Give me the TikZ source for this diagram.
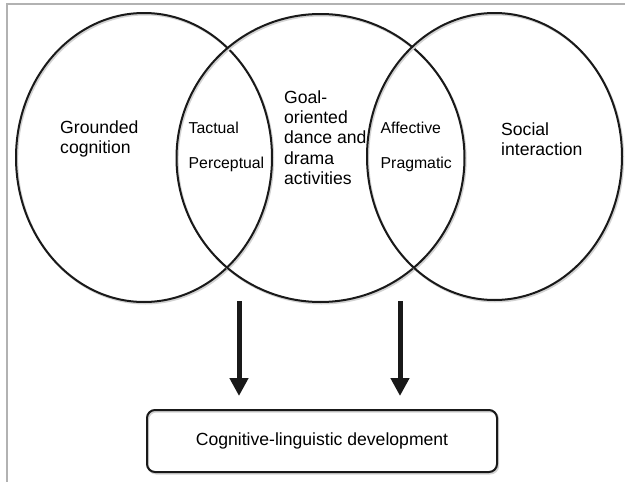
\documentclass[tikz,border=0pt]{standalone}
\usepackage{fontspec}
\setmainfont{Liberation Sans}
\usetikzlibrary{arrows.meta,shapes.geometric,shadows}

\tikzset{
    soft/.style={general shadow={shadow xshift=1.2pt, shadow yshift=-1.5pt, draw=gray!35, fill=none, line width=2pt}},
    ring/.style={ellipse, draw=black!90, line width=2pt, inner sep=0pt, soft},
    bigtext/.style={anchor=west, inner sep=0pt, align=left, font=\fontsize{17.6}{20.3}\selectfont},
    smalltext/.style={anchor=west, inner sep=0pt, font=\fontsize{15.8}{18}\selectfont},
    flow/.style={line width=5pt, black!90, -{Triangle[width=18pt,length=18pt]}, shorten >=13pt}
}

\begin{document}
\begin{tikzpicture}[x=1pt, y=-1pt]
    \useasboundingbox (0,0) rectangle (625,482);

    % frame lines
    \draw[gray!60, line width=1.2pt] (7,482) -- (7,4) -- (625,4);

    % the three circles
    \node[ring, minimum width=256pt, minimum height=289pt] (grounded) at (144,157.5) {};
    \node[ring, minimum width=288pt, minimum height=288pt] (goal) at (320.5,158) {};
    \node[ring, minimum width=255pt, minimum height=287pt] (social) at (494.5,156.5) {};

    % labels
    \node[bigtext] (groundedtxt) at (60,139) {Grounded\\cognition};
    \node[bigtext] (goaltxt) at (284,137.5) {Goal-\\oriented\\dance and\\drama\\activities};
    \node[bigtext] (socialtxt) at (501,139) {Social\\interaction};

    \node[smalltext] (tactual) at (188.5,128) {Tactual};
    \node[smalltext] (perceptual) at (188.5,164) {Perceptual};
    \node[smalltext] (affective) at (380.5,128) {Affective};
    \node[smalltext] (pragmatic) at (380.5,164) {Pragmatic};

    % outcome box
    \node[draw=black!90, line width=2pt, rounded corners=8pt, minimum width=350pt, minimum height=62pt, soft,
          font=\fontsize{17.6}{20.3}\selectfont] (outcome) at (322,441) {Cognitive-linguistic development};

    % arrows
    \coordinate (leftsrc) at (239,301);
    \coordinate (rightsrc) at (400,301);
    \draw[flow] (leftsrc) -- (leftsrc |- outcome.north);
    \draw[flow] (rightsrc) -- (rightsrc |- outcome.north);

\end{tikzpicture}
\end{document}
